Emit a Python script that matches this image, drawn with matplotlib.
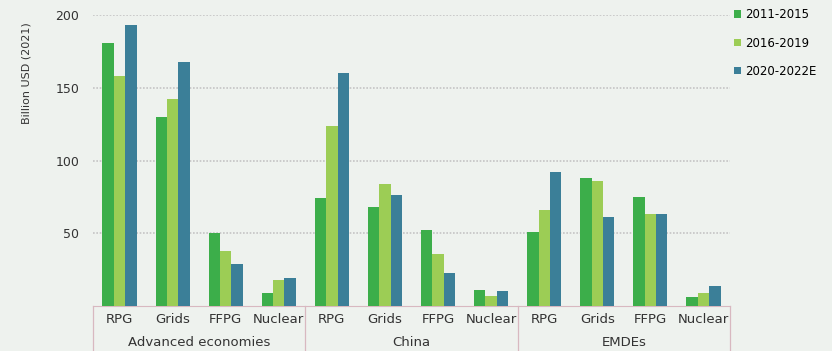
import numpy as np
import matplotlib
matplotlib.use("Agg")
import matplotlib.pyplot as plt
from matplotlib.transforms import blended_transform_factory

regions = ["Advanced economies", "China", "EMDEs"]
techs = ["RPG", "Grids", "FFPG", "Nuclear"]
periods = ["2011-2015", "2016-2019", "2020-2022E"]

# order: Advanced (RPG, Grids, FFPG, Nuclear), China (...), EMDEs (...)
v_2011_2015 = [181, 130, 50, 9, 74, 68, 52, 11, 51, 88, 75, 6]
v_2016_2019 = [158, 142, 38, 18, 124, 84, 36, 7, 66, 86, 63, 9]
v_2020_2022 = [193, 168, 29, 19, 160, 76, 23, 10, 92, 61, 63, 14]

colors = ["#3cae4a", "#9ccd55", "#3b7f98"]
bg = "#eef2ee"

fig = plt.figure(figsize=(8.32, 3.51), dpi=100, facecolor=bg)
ax = fig.add_axes([93 / 832, 45 / 351, 637 / 832, 291 / 351], facecolor=bg)

x = np.arange(len(v_2011_2015))
w = 0.215
for i, (vals, col, lab) in enumerate(zip([v_2011_2015, v_2016_2019, v_2020_2022], colors, periods)):
    ax.bar(x + (i - 1) * w, vals, width=w, color=col, label=lab, zorder=3)

ax.set_xlim(-0.5, len(x) - 0.5)
ax.set_ylim(0, 200)
ax.set_yticks([50, 100, 150, 200])
ax.yaxis.grid(True, color="#c4c4c4", linestyle=(0, (1, 1)), linewidth=1.2, zorder=0)
for s in ["top", "right", "left"]:
    ax.spines[s].set_visible(False)
ax.spines["bottom"].set_color("#d8b8c0")
ax.tick_params(axis="both", length=0, labelsize=9, colors="#333333", pad=10)
ax.set_xticks(x)
ax.set_xticklabels(techs * len(regions), fontsize=9.5)
ax.tick_params(axis="x", pad=5)
ax.set_ylabel("Billion USD (2021)", fontsize=8, color="#333333")
ax.yaxis.set_label_coords(-0.097, 0.80)

trans = blended_transform_factory(ax.transData, ax.transAxes)
for b in [-0.5, 3.5, 7.5, 11.5]:
    ax.plot([b, b], [0, -0.16], transform=trans, color="#d8b8c0", lw=0.9, clip_on=False)
for k, r in enumerate(regions):
    ax.text(k * 4 + 1.5, -0.125, r, transform=trans, ha="center", va="center",
            fontsize=9.5, color="#333333")

ax.legend(loc="upper left", bbox_to_anchor=(0.99, 1.06), frameon=False, fontsize=8.5,
          handlelength=0.6, handleheight=0.6, handletextpad=0.3, labelspacing=1.3)

fig.savefig("out.png", dpi=100, facecolor=bg)
